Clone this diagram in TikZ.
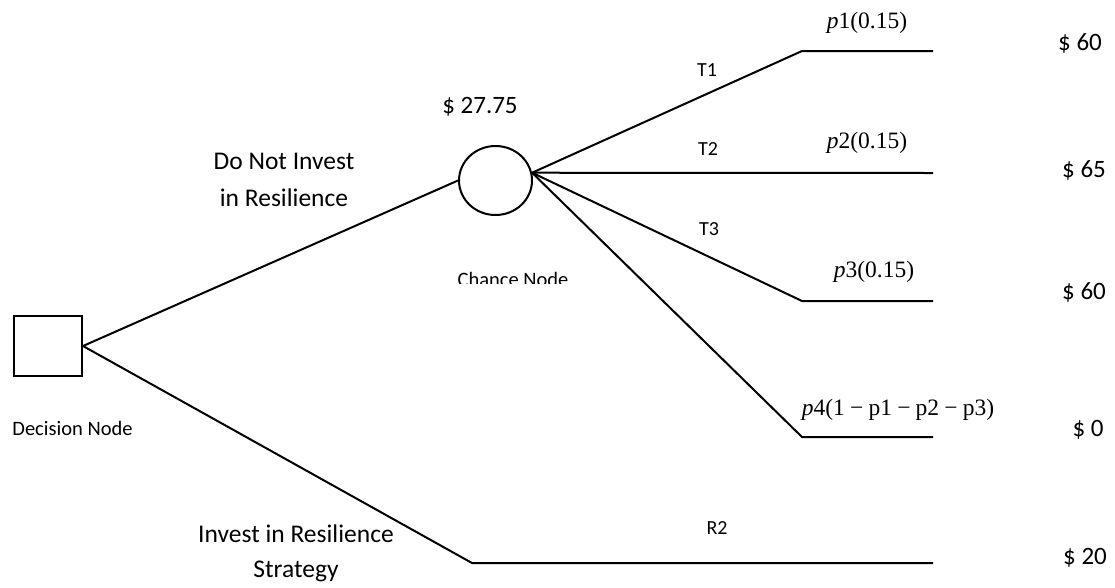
\documentclass[tikz,border=0pt]{standalone}
\usepackage{fontspec}
\usetikzlibrary{shapes.geometric}
\setmainfont{Carlito}
\newfontfamily\probfont{Liberation Serif}
\newcommand{\pv}[1]{\textit{p}#1}
\newcommand{\mns}{\hspace{0.22em}−\hspace{0.22em}}
\begin{document}
\begin{tikzpicture}[x=1pt,y=-1pt,
  branch/.style={line width=2pt},
  big/.style={font=\fontsize{25.5}{37}\selectfont, align=center, inner sep=0pt},
  pay/.style={font=\fontsize{25}{30}\selectfont, inner sep=0pt},
  mid/.style={font=\fontsize{20.5}{24}\selectfont, inner sep=0pt},
  small/.style={font=\fontsize{20}{24}\selectfont, inner sep=0pt},
  prob/.style={font=\probfont\fontsize{23.5}{28}\selectfont, inner sep=0pt}]
\useasboundingbox (0,0) rectangle (1115,587);

% decision and chance nodes
\node[draw, line width=2pt, minimum width=68pt, minimum height=60pt, inner sep=0pt] (dec) at (48,346) {};
\node[draw, ellipse, line width=2pt, minimum width=73pt, minimum height=69pt, inner sep=0pt] (chance) at (495.5,180.5) {};
\coordinate (hub) at (chance.12);

% bend and end points of the branches
\coordinate (t1a) at (802,51);   \coordinate (t1b) at (933,51);
\coordinate (t2b) at (933,173);
\coordinate (t3a) at (802,301);  \coordinate (t3b) at (933,301);
\coordinate (t4a) at (802,437);  \coordinate (t4b) at (933,437);
\coordinate (r2a) at (472,563);  \coordinate (r2b) at (933,563);

% branches
\draw[branch] (dec.east) -- (chance.west);
\draw[branch] (dec.east) -- (r2a) -- (r2b);
\draw[branch] (hub) -- (t1a) -- (t1b);
\draw[branch] (hub) -- (t2b);
\draw[branch] (hub) -- (t3a) -- (t3b);
\draw[branch] (hub) -- (t4a) -- (t4b);

% node captions
\node[mid] (declbl) at (72.5,428) {Decision Node};
\begin{scope}
  \clip (420,255) rectangle (600,283.5);
  \node[mid] (chlbl) at (513,279) {Chance Node};
\end{scope}
\node[pay] (ev) at (480,107) {\$ 27.75};

% decision labels
\node[big] (dni) at (284,179.5) {Do Not Invest\\in Resilience};
\node[big] (inv) at (296,553.5) {Invest in Resilience\\[-2pt]Strategy};

% branch names
\node[small] (lt1) at (707,70) {T1};
\node[small] (lt2) at (708,149) {T2};
\node[small] (lt3) at (709,229) {T3};
\node[small] (lr2) at (717,528) {R2};

% probabilities
\node[prob] (p1) at (867,23) {\pv{1}(0.15)};
\node[prob] (p2) at (867,143) {\pv{2}(0.15)};
\node[prob] (p3) at (874,272) {\pv{3}(0.15)};
\node[prob] (p4) at (898,410) {\pv{4}(1\mns p1\mns p2\mns p3)};

% payoffs
\node[pay] (v1) at (1080,43) {\$ 60};
\node[pay] (v2) at (1084,170) {\$ 65};
\node[pay] (v3) at (1084,292) {\$ 60};
\node[pay] (v4) at (1088,430) {\$ 0};
\node[pay] (v5) at (1085,558) {\$ 20};
\end{tikzpicture}
\end{document}
